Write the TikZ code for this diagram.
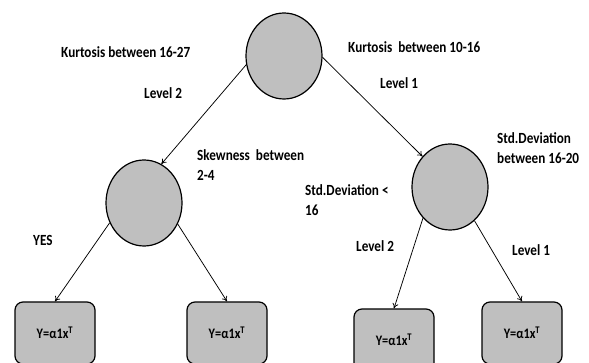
\documentclass[tikz,border=0pt]{standalone}
\usepackage{fontspec}
\setmainfont{Carlito}[FakeStretch=0.85]
\usetikzlibrary{shapes.geometric,arrows.meta}
\definecolor{nodegray}{HTML}{BFBFBF}
\begin{document}
\begin{tikzpicture}[x=1pt,y=-1pt,
  circ/.style={ellipse, draw, fill=nodegray, line width=1.2pt, minimum width=76pt, minimum height=86pt, inner sep=0pt},
  leaf/.style={rectangle, rounded corners=8pt, draw, fill=nodegray, line width=1.2pt, minimum width=80pt, minimum height=62pt, inner sep=0pt, font=\bfseries\fontsize{14.5}{15}\selectfont},
  lbl/.style={font=\bfseries\fontsize{15.5}{20}\selectfont, anchor=west, inner sep=0pt, align=left},
  edge/.style={-{To[length=5pt,width=6pt]}, line width=0.75pt}]
\useasboundingbox (0,0) rectangle (589,363);
\node[anchor=base, font=\bfseries\fontsize{16}{16}\selectfont, text=black!70, inner sep=0pt] (title) at (263,-2) {g};
\node[circ] (root) at (284,56) {};
\node[circ] (lc) at (144,203) {};
\node[circ] (rc) at (450,187) {};
\node[leaf] (L1) at (55,333) {Y=α1x\textsuperscript{T}};
\node[leaf] (L2) at (227,333) {Y=α1x\textsuperscript{T}};
\node[leaf] (L3) at (394,340) {Y=α1x\textsuperscript{T}};
\node[leaf] (L4) at (522,333) {Y=α1x\textsuperscript{T}};
\draw[edge] (root.193) -- (lc.66);
\draw[edge] (root.358) -- (rc.132);
\draw[edge] (lc.210) -- (L1.north);
\draw[edge] (lc.328) -- (L2.north);
\draw[edge] (rc.229) -- (L3.north);
\draw[edge] (rc.306) -- (L4.north);
\node[lbl] (t1) at (61,52) {Kurtosis between 16-27};
\node[lbl] (t2) at (348,47) {Kurtosis\ \ between 10-16};
\node[lbl] (t3) at (144,93) {Level 2};
\node[lbl] (t4) at (380,83) {Level 1};
\node[lbl] (t5) at (197,165) {Skewness\ \ between\\2-4};
\node[lbl] (t6) at (497,148) {Std.Deviation\\between 16-20};
\node[lbl] (t7) at (305,200) {Std.Deviation <\\16};
\node[lbl] (t8) at (33,240) {YES};
\node[lbl] (t9) at (356,246) {Level 2};
\node[lbl] (t10) at (512,250) {Level 1};
\end{tikzpicture}
\end{document}
